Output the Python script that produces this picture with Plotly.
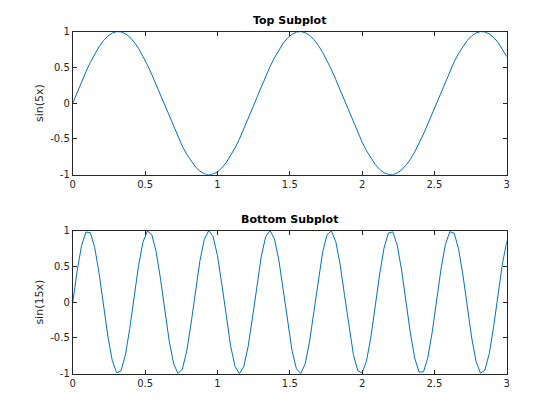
import numpy as np
import plotly.graph_objects as go

x = np.linspace(0, 3, 100)

y_top = [0, 0.1509, 0.2984, 0.4391, 0.5697, 0.6871, 0.7889, 0.8726, 0.9364, 0.9786,
         0.9985, 0.9954, 0.9696, 0.9215, 0.8523, 0.7637, 0.6574, 0.5361, 0.4026, 0.2598,
         0.1111, -0.0402, -0.1906, -0.3366, -0.4748, -0.6024, -0.7158, -0.8130, -0.8916, -0.9497,
         -0.9861, -0.9999, -0.9908, -0.9589, -0.9051, -0.8304, -0.7370, -0.6265, -0.5017, -0.3654,
         -0.2207, -0.0710, 0.0804, 0.2299, 0.3741, 0.5098, 0.6338, 0.7433, 0.8356, 0.9091,
         0.9616, 0.9920, 0.9997, 0.9845, 0.9468, 0.8873, 0.8074, 0.7092, 0.5947, 0.4665,
         0.3277, 0.1813, 0.0308, -0.1204, -0.2689, -0.4112, -0.5440, -0.6645, -0.7696, -0.8572,
         -0.9251, -0.9718, -0.9963, -0.9979, -0.9767, -0.9330, -0.8681, -0.7833, -0.6805, -0.5619,
         -0.4306, -0.2894, -0.1416, 0.0094, 0.1602, 0.3074, 0.4475, 0.5773, 0.6939, 0.7946,
         0.8771, 0.9396, 0.9805, 0.9989, 0.9945, 0.9672, 0.9178, 0.8474, 0.7575, 0.6503]

y_bottom = [0, 0.4391, 0.7889, 0.9786, 0.9696, 0.7637, 0.4026, -0.0402, -0.4748, -0.8130,
            -0.9861, -0.9589, -0.7370, -0.3654, 0.0804, 0.5098, 0.8356, 0.9920, 0.9468, 0.7092,
            0.3277, -0.1204, -0.5440, -0.8572, -0.9963, -0.9330, -0.6805, -0.2894, 0.1602, 0.5773,
            0.8771, 0.9989, 0.9178, 0.6503, 0.2507, -0.1998, -0.6099, -0.8958, -1.0000, -0.9011,
            -0.6192, -0.2116, 0.2390, 0.6410, 0.9130, 0.9994, 0.8829, 0.5872, 0.1721, -0.2779,
            -0.6714, -0.9286, -0.9972, -0.8633, -0.5541, -0.1323, 0.3163, 0.7007, 0.9428, 0.9934,
            0.8424, 0.5202, 0.0924, -0.3542, -0.7289, -0.9554, -0.9880, -0.8203, -0.4854, -0.0523,
            0.3915, 0.7557, 0.9665, 0.9810, 0.7962, 0.4499, 0.0121, -0.4282, -0.7816, -0.9761,
            -0.9724, -0.7713, -0.4136, 0.0282, 0.4642, 0.8058, 0.9840, 0.9623, 0.7451, 0.3766,
            -0.0683, -0.4994, -0.8289, -0.9904, -0.9506, -0.7177, -0.3391, 0.1084, 0.5338, 0.8509]

x_ticks = [0, 0.5, 1, 1.5, 2, 2.5, 3]
x_ticklabels = ["0", "0.5", "1", "1.5", "2", "2.5", "3"]
y_ticks = [-1, -0.5, 0, 0.5, 1]
y_ticklabels = ["-1", "-0.5", "0", "0.5", "1"]
titles = ["Top Subplot", "Bottom Subplot"]
ylabels = ["sin(5x)", "sin(15x)"]

LINE = "#0072BD"
AX = "#262626"
FONT = "DejaVu Sans"

fig = go.Figure()
fig.add_trace(go.Scatter(x=x, y=y_top, mode="lines", line=dict(color=LINE, width=1),
                         xaxis="x", yaxis="y", showlegend=False, hoverinfo="skip"))
fig.add_trace(go.Scatter(x=x, y=y_bottom, mode="lines", line=dict(color=LINE, width=1),
                         xaxis="x2", yaxis="y2", showlegend=False, hoverinfo="skip"))

# page body has an 8px margin, so domains are offset to compensate
xd = [0.1157, 0.8907]
yd_top = [0.6029, 0.9440]
yd_bot = [0.1290, 0.4702]

def xaxis(anchor):
    return dict(domain=xd, anchor=anchor, range=[0, 3], tickvals=x_ticks, ticktext=x_ticklabels,
                ticks="inside", ticklen=4, tickwidth=1, tickcolor=AX, showline=True, linecolor=AX,
                linewidth=1, mirror="ticks", showgrid=False, zeroline=False, automargin=False,
                tickfont=dict(family=FONT, size=10, color=AX), fixedrange=True)

def yaxis(anchor, dom, label):
    return dict(domain=dom, anchor=anchor, range=[-1, 1], tickvals=y_ticks, ticktext=y_ticklabels,
                ticks="inside", ticklen=4, tickwidth=1, tickcolor=AX, showline=True, linecolor=AX,
                linewidth=1, mirror="ticks", showgrid=False, zeroline=False, automargin=False,
                tickfont=dict(family=FONT, size=10, color=AX),
                title=dict(text=label, font=dict(family=FONT, size=11, color=AX), standoff=4),
                fixedrange=True)

fig.update_layout(
    width=560, height=420,
    margin=dict(l=0, r=0, t=0, b=0),
    paper_bgcolor="white", plot_bgcolor="white",
    xaxis=xaxis("y"), yaxis=yaxis("x", yd_top, ylabels[0]),
    xaxis2=xaxis("y2"), yaxis2=yaxis("x2", yd_bot, ylabels[1]),
    annotations=[
        dict(text="<b>" + titles[0] + "</b>", x=sum(xd) / 2, y=yd_top[1], xref="paper", yref="paper",
             xanchor="center", yanchor="bottom", yshift=3, showarrow=False,
             font=dict(family=FONT, size=11, color="black")),
        dict(text="<b>" + titles[1] + "</b>", x=sum(xd) / 2, y=yd_bot[1], xref="paper", yref="paper",
             xanchor="center", yanchor="bottom", yshift=3, showarrow=False,
             font=dict(family=FONT, size=11, color="black")),
    ],
)

fig.write_html("out.html")
